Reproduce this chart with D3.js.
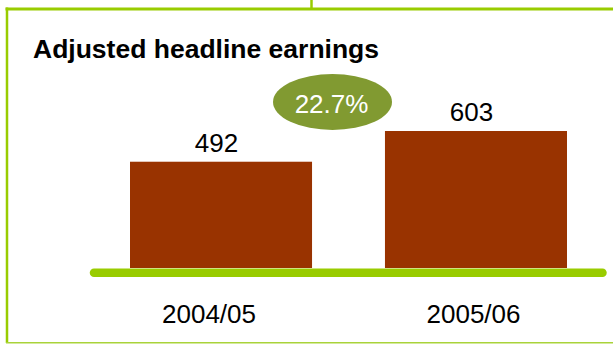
<!DOCTYPE html>
<html>
<head>
<meta charset="utf-8">
<script src="https://cdn.jsdelivr.net/npm/d3@7"></script>
<style>
  html, body { margin: 0; padding: 0; background: #fff; }
  svg { display: block; font-family: "Liberation Sans", Arial, sans-serif; }
</style>
</head>
<body>
<script>
// Chart data
const categories = ["2004/05", "2005/06"];
const values = [492, 603];
const valueLabels = ["492", "603"];
const chartTitle = "Adjusted headline earnings";
const changeLabel = "22.7%";

const W = 613, H = 344;
const green = "#99cc00";
const barColor = "#993300";
const olive = "#819a31";

const svg = d3.select("body").append("svg")
  .attr("width", W).attr("height", H);

// Frame lines
const frame = svg.append("g").attr("fill", "none").attr("stroke", green);
frame.append("line").attr("x1", 5.5).attr("x2", W).attr("y1", 9).attr("y2", 9).attr("stroke-width", 3);
frame.append("line").attr("x1", 7).attr("x2", 7).attr("y1", 7.5).attr("y2", 343).attr("stroke-width", 2.5);
frame.append("line").attr("x1", 311.5).attr("x2", 311.5).attr("y1", 0).attr("y2", 8).attr("stroke-width", 2.5);
frame.append("line").attr("x1", 6).attr("x2", W).attr("y1", 342.8).attr("y2", 342.8)
  .attr("stroke", "#a9d33a").attr("stroke-width", 1.5);

// Title
svg.append("text")
  .attr("x", 33).attr("y", 58)
  .attr("font-size", 26.5).attr("font-weight", "bold").attr("fill", "#000")
  .text(chartTitle);

// Scales
const x = d3.scaleBand().domain(categories).range([130, 567])
  .paddingInner(0.286).paddingOuter(0);
const y = d3.scaleLinear().domain([108, 603]).range([268, 131]);

// Bars
svg.append("g").selectAll("rect")
  .data(values)
  .join("rect")
  .attr("x", (d, i) => x(categories[i]))
  .attr("width", x.bandwidth())
  .attr("y", d => y(d))
  .attr("height", d => y.range()[0] - y(d))
  .attr("fill", barColor);

// Value labels
svg.append("g").selectAll("text")
  .data(values)
  .join("text")
  .attr("x", (d, i) => x(categories[i]) + x.bandwidth() / 2 - 4.5)
  .attr("y", d => y(d) - 10)
  .attr("text-anchor", "middle")
  .attr("font-size", 26).attr("fill", "#000")
  .text((d, i) => valueLabels[i]);

// Baseline
svg.append("line")
  .attr("x1", 94).attr("x2", 602.5)
  .attr("y1", 272.7).attr("y2", 272.7)
  .attr("stroke", green).attr("stroke-width", 8.5).attr("stroke-linecap", "round");

// Category axis
const xLabel = d3.scalePoint().domain(categories).range([208.5, 473]);
const axis = svg.append("g")
  .attr("transform", "translate(0,305)")
  .call(d3.axisBottom(xLabel).tickSize(0).tickPadding(0));
axis.select(".domain").remove();
axis.selectAll("text")
  .attr("font-size", 26).attr("fill", "#000")
  .attr("font-family", "Liberation Sans, Arial, sans-serif")
  .attr("dy", "0.71em");

// Growth badge between the bars
const gapMid = (x(categories[0]) + x.bandwidth() + x(categories[1])) / 2 - 16;
const badgeY = y(values[1]) - 29;
svg.append("ellipse")
  .attr("cx", gapMid).attr("cy", badgeY)
  .attr("rx", 59.5).attr("ry", 28)
  .attr("fill", olive);
svg.append("text")
  .attr("x", gapMid - 1).attr("y", badgeY + 11.3)
  .attr("text-anchor", "middle")
  .attr("font-size", 26).attr("fill", "#fff")
  .text(changeLabel);
</script>
</body>
</html>
